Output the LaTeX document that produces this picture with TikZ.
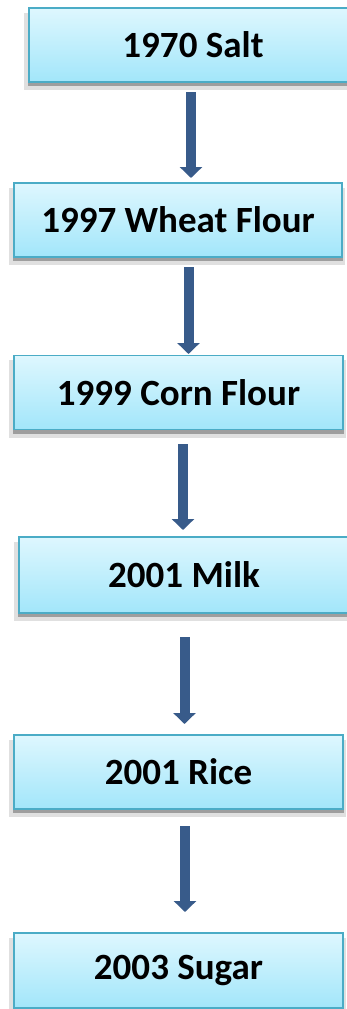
\documentclass[tikz,border=0pt]{standalone}
\usepackage{fontspec}
\setmainfont{Carlito}
\usetikzlibrary{arrows.meta}
\definecolor{boxborder}{RGB}{75,172,198}
\definecolor{boxtop}{RGB}{222,247,254}
\definecolor{boxbot}{RGB}{162,230,250}
\definecolor{arrowblue}{RGB}{56,91,138}
\tikzset{
  box/.style={draw=boxborder, line width=1.1pt, top color=boxtop, bottom color=boxbot,
    minimum height=74pt, inner sep=0pt, font=\fontsize{37}{42}\selectfont\bfseries, text=black},
  flowarrow/.style={draw=arrowblue, line width=10pt,
    -{Triangle[width=22pt,length=11pt]}},
  shadowlight/.style={fill=black!12, draw=none},
  shadowdark/.style={fill=black!38, draw=none}
}
\newcommand{\boxshadow}[4]{%
  \fill[shadowlight] (#1-5pt,-#2-5pt) rectangle (#3+3pt,-#4-8pt);
  \fill[shadowdark] (#1-1pt,-#4) rectangle (#3+1pt,-#4-4pt);
}
\begin{document}
\begin{tikzpicture}[x=1pt,y=1pt]
\useasboundingbox (0,0) rectangle (347,-1009);
\fill[white] (0,0) rectangle (347,-1009);
% shadows
\boxshadow{29}{8}{357}{82}
\boxshadow{14}{183}{342}{257}
\boxshadow{14}{355}{343}{430}
\boxshadow{19}{537}{349}{613}
\boxshadow{14}{735}{343}{809}
\boxshadow{14}{933}{343}{1008}
% boxes
\node[box, minimum width=328pt] (b1) at (193,-45) {1970 Salt};
\node[box, minimum width=328pt] (b2) at (178,-220) {1997 Wheat Flour};
\node[box, minimum width=329pt] (b3) at (178.5,-392.5) {1999 Corn Flour};
\node[box, minimum width=330pt, minimum height=76pt] (b4) at (184,-575) {2001 Milk};
\node[box, minimum width=329pt] (b5) at (178.5,-772) {2001 Rice};
\node[box, minimum width=329pt, minimum height=75pt] (b6) at (178.5,-970.5) {2003 Sugar};
% arrow ends
\coordinate (a1s) at (191,-92);  \coordinate (a1e) at (191,-178);
\coordinate (a2s) at (188.5,-267); \coordinate (a2e) at (188.5,-354);
\coordinate (a3s) at (183,-444); \coordinate (a3e) at (183,-530);
\coordinate (a4s) at (184.5,-637); \coordinate (a4e) at (184.5,-724);
\coordinate (a5s) at (185,-826); \coordinate (a5e) at (185,-912);
\draw[flowarrow] (a1s) -- (a1e);
\draw[flowarrow] (a2s) -- (a2e);
\draw[flowarrow] (a3s) -- (a3e);
\draw[flowarrow] (a4s) -- (a4e);
\draw[flowarrow] (a5s) -- (a5e);
\end{tikzpicture}
\end{document}
